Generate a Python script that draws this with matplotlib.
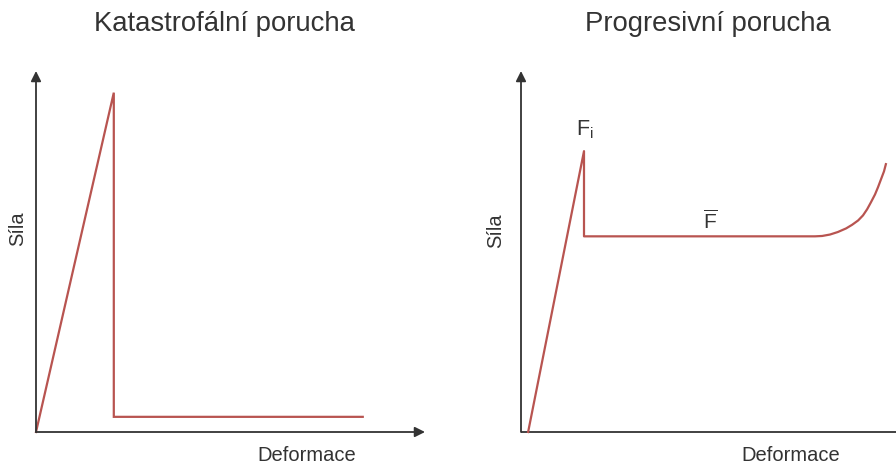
import matplotlib.pyplot as plt

plt.rcParams['font.family'] = ['Liberation Sans', 'DejaVu Sans']
plt.rcParams['mathtext.fontset'] = 'custom'
plt.rcParams['mathtext.rm'] = 'Liberation Sans'
plt.rcParams['mathtext.it'] = 'Liberation Sans'

# force-deformation curves (arbitrary units, 0..100 on both axes)
cat_deform = [0, 20, 20, 84]
cat_force = [0, 94, 4.2, 4.2]

prog_deform = [1.9, 16.8, 16.8, 78.4, 80.3, 82.4, 84.5, 86.7, 88.3, 89.9,
               91.2, 92.3, 93.3, 94.4, 95.2, 96.0, 96.8, 97.3]
prog_force = [0, 77.8, 54.2, 54.2, 54.3, 54.7, 55.4, 56.4, 57.4, 58.6,
              60.0, 61.7, 63.6, 65.8, 67.8, 70.0, 72.2, 74.2]

titles = ['Katastrofální porucha', 'Progresivní porucha']
x_label = 'Deformace'
y_label = 'Síla'

RED = '#b85450'
AX = '#333333'
W, H = 896, 464

fig = plt.figure(figsize=(W / 100, H / 100), dpi=100)


def make_axes(x0, x1, y_bot, y_top, arrow_x=True):
    ax = fig.add_axes([x0 / W, 1 - y_bot / H, (x1 - x0) / W, (y_bot - y_top) / H])
    ax.set_xlim(0, 100)
    ax.set_ylim(0, 100)
    ax.axis('off')
    ax.annotate('', xy=(0, 1), xytext=(0, 0), xycoords='axes fraction',
                arrowprops=dict(arrowstyle='-|>', color=AX, lw=1.3,
                                mutation_scale=15, shrinkA=0, shrinkB=0))
    if arrow_x:
        ax.annotate('', xy=(1, 0), xytext=(0, 0), xycoords='axes fraction',
                    arrowprops=dict(arrowstyle='-|>', color=AX, lw=1.3,
                                    mutation_scale=15, shrinkA=0, shrinkB=0))
    else:
        ax.plot([0, 1], [0, 0], color=AX, lw=1.3, transform=ax.transAxes,
                clip_on=False, solid_capstyle='butt')
    return ax


ax1 = make_axes(36, 425, 433, 72)
ax1.plot(cat_deform, cat_force, color=RED, lw=1.6, clip_on=False,
         solid_joinstyle='miter')

ax2 = make_axes(521, 896, 433, 72, arrow_x=False)
ax2.plot(prog_deform, prog_force, color=RED, lw=1.6, clip_on=False,
         solid_joinstyle='round')

# annotations on the progressive curve
ax2.text(prog_deform[1] + 0.3, prog_force[1] + 3.2, r'F$_{\mathrm{i}}$', fontsize=15.5,
         color=AX, ha='center', va='bottom')
ax2.text(50.4, prog_force[3] + 1.3, r'$\overline{\mathrm{F}}$', fontsize=15,
         color=AX, ha='center', va='bottom')

# titles and axis labels
fig.text(224 / W, 1 - 24 / H, titles[0], fontsize=19.8, color='#333333',
         ha='center', va='center')
fig.text(708 / W, 1 - 24 / H, titles[1], fontsize=19.8, color='#333333',
         ha='center', va='center')
for xc in (307, 791):
    fig.text(xc / W, 1 - 456 / H, x_label, fontsize=14.5, color=AX,
             ha='center', va='center')
for xc, yc in ((18, 229), (496, 231)):
    fig.text(xc / W, 1 - yc / H, y_label, fontsize=14.5, color=AX,
             ha='center', va='center', rotation=90)

fig.savefig('out.png', dpi=100)
